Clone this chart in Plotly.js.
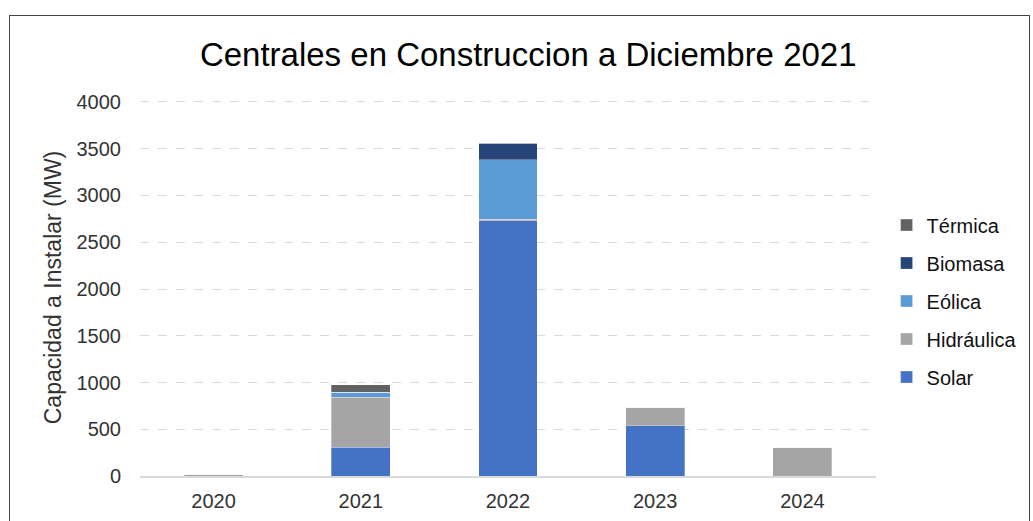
<!DOCTYPE html>
<html><head><meta charset="utf-8">
<script src="https://cdn.plot.ly/plotly-3.0.1.min.js"></script>
<style>
body{margin:0;padding:0;background:#fff;}
#chart{width:1033px;height:521px;}
#frame{position:absolute;left:9px;top:15px;width:1019px;height:520px;border:1.5px solid #444;pointer-events:none;}
</style></head>
<body>
<div id="chart"></div>
<div id="frame"></div>
<script>
const years = ['2020','2021','2022','2023','2024'];
const solar = [0, 310, 2730, 538, 0];
const hidraulica = [20, 532, 15, 197, 307];
const eolica = [0, 56, 635, 0, 0];
const biomasa = [0, 0, 178, 0, 0];
const termica = [0, 79, 0, 0, 0];

const names = ['Solar','Hidráulica','Eólica','Biomasa','Térmica'];
const series = [solar, hidraulica, eolica, biomasa, termica];
const colors = ['#4472C4','#A5A5A5','#5B9BD5','#264478','#636363'];

const traces = series.map((s,i)=>({
  type:'bar', x: years, y: s, name: names[i], legendgroup: 'g'+i, legendrank: 5-i,
  marker:{color: colors[i], line:{color:'rgba(255,255,255,0.6)', width:0.5}},
  hoverinfo:'name+y'
}));

const layout = {
  width:1033, height:521,
  margin:{l:140, r:156, t:99, b:45},
  barmode:'stack', bargap:0.6,
  paper_bgcolor:'#fff', plot_bgcolor:'#fff',
  font:{family:'Liberation Sans, Arial, sans-serif', color:'#333'},
  title:{text:'Centrales en Construccion a Diciembre 2021', x:0.5275, xref:'paper', y:0.895, yref:'container', xanchor:'center', yanchor:'middle',
    font:{size:33, color:'#000', family:'Liberation Sans, Arial, sans-serif'}},
  xaxis:{type:'category', showline:true, linecolor:'#d9d9d9', linewidth:1.5, ticks:'outside', ticklen:6, tickcolor:'rgba(0,0,0,0)',
    tickfont:{size:20, color:'#333'}, showgrid:false},
  yaxis:{range:[0,4032], dtick:500, showgrid:true, gridcolor:'#d9d9d9', griddash:'dash', gridwidth:1,
    zeroline:false, tickfont:{size:20, color:'#333'}, ticks:'outside', ticklen:14, tickcolor:'rgba(0,0,0,0)', tickformat:'d',
    title:{text:'Capacidad a Instalar (MW)', font:{size:23, color:'#333'}, standoff:8}},
  legend:{x:1.013, y:0.464, xanchor:'left', yanchor:'middle', traceorder:'grouped', tracegroupgap:9,
    font:{size:20, color:'#111'}, itemwidth:30},
  showlegend:true
};
Plotly.newPlot('chart', traces, layout, {displayModeBar:false, staticPlot:true});
</script>
</body></html>
